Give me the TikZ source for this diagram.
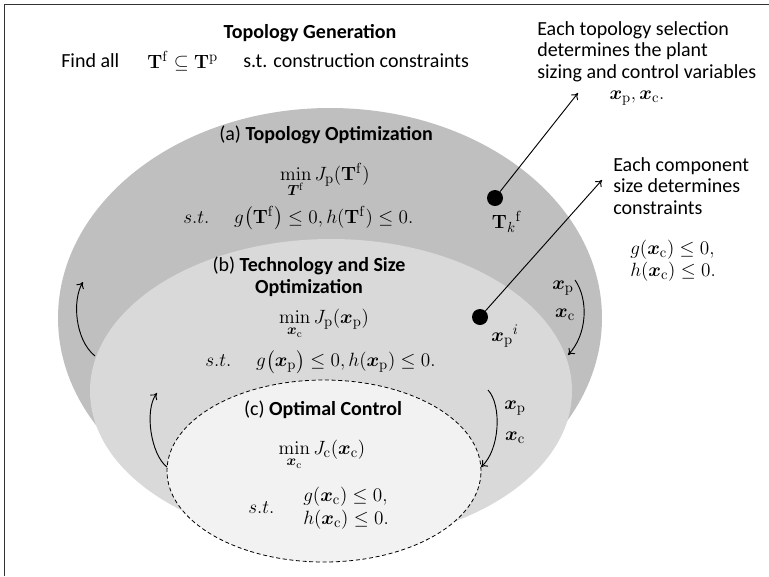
\documentclass[tikz,border=0pt]{standalone}
\usepackage[no-math]{fontspec}
\setmainfont{Carlito}
\usepackage{amsmath,bm}
\usetikzlibrary{arrows.meta,shapes.geometric}
\begin{document}
\begin{tikzpicture}[x=0.75pt,y=-0.75pt,
  txt/.style={font=\fontsize{15}{16.3}\selectfont, inner sep=0pt},
  mth/.style={font=\fontsize{15.6}{17}\selectfont, inner sep=0pt},
  blk/.style={txt, align=left},
  region/.style={ellipse, draw=none, inner sep=0pt},
  dot/.style={circle, fill=black, minimum size=12pt, inner sep=0pt},
  arr/.style={line width=0.7pt, -{To[length=4.5pt,width=6.5pt]}},
  curv/.style={line width=0.7pt, -{To[length=4.5pt,width=6.5pt]}}]
\useasboundingbox (0,0) rectangle (769,576);

% frame
\draw[line width=1.1pt, black!80] (4.5,576) -- (4.5,4.5) -- (769,4.5);

% nested optimisation levels
\node[region, fill=black!25, minimum width=408pt, minimum height=315pt] (ella) at (330,318) {};
\node[region, fill=black!15, minimum width=361.5pt, minimum height=228pt] (ellb) at (331,391) {};
\node[region, fill=black!5, draw=black, dashed, dash pattern=on 3pt off 2pt, line width=0.6pt,
      minimum width=235.5pt, minimum height=136.5pt] (ellc) at (324,471) {};

% heading
\node[txt] (title) at (310,33) {\textbf{Topology Generation}};
\node[txt, anchor=west] (findall) at (61,61) {Find all};
\node[mth, anchor=west] (tset) at (147,61) {$\mathbf{T}^{\mathrm{f}} \subseteq \mathbf{T}^{\mathrm{p}}$};
\node[txt, anchor=west] (constr) at (243,61) {s.t. construction constraints};

% (a) topology optimisation
\node[txt] (ta) at (326,135) {(a) \textbf{Topology Optimization}};
\node[mth] (mina) at (325,180) {$\min\limits_{\bm{T}^{\mathrm{f}}} J_{\mathrm{p}}(\mathbf{T}^{\mathrm{f}})$};
\node[mth, anchor=west] (sta) at (183,218) {$s.t.\hspace{1.2em} g\bigl(\mathbf{T}^{\mathrm{f}}\bigr) \le 0, h(\mathbf{T}^{\mathrm{f}}) \le 0.$};

% (b) technology and size optimisation
\node[txt, align=center] (tb) at (309,277) {(b) \textbf{Technology and Size}\\\textbf{Optimization}};
\node[mth] (minb) at (324,324) {$\min\limits_{\bm{x}_{\mathrm{c}}} J_{\mathrm{p}}(\bm{x}_{\mathrm{p}})$};
\node[mth, anchor=west] (stb) at (205,362) {$s.t.\hspace{1.2em} g\bigl(\bm{x}_{\mathrm{p}}\bigr) \le 0, h(\bm{x}_{\mathrm{p}}) \le 0.$};

% (c) optimal control
\node[txt] (tc) at (323,410) {(c) \textbf{Optimal Control}};
\node[mth] (minc) at (322,455) {$\min\limits_{\bm{x}_{\mathrm{c}}} J_{\mathrm{c}}(\bm{x}_{\mathrm{c}})$};
\node[mth, anchor=west] (stc) at (248,508) {$s.t.$};
\node[mth, anchor=west, align=left] (gc) at (303,508) {$g(\bm{x}_{\mathrm{c}}) \le 0,$\\$h(\bm{x}_{\mathrm{c}}) \le 0.$};

% selected points
\node[dot] (tk) at (495,198) {};
\node[mth] (tklab) at (507,222) {$\mathbf{T}_{k}{}^{\mathrm{f}}$};
\node[dot] (xpi) at (480,317) {};
\node[mth] (xpilab) at (505,336) {$\bm{x}_{\mathrm{p}}{}^{i}$};

% side notes
\node[blk, anchor=north west] (note1) at (537,21) {Each topology selection\\determines the plant\\sizing and control variables};
\node[mth] (note1m) at (637,98) {$\bm{x}_{\mathrm{p}}, \bm{x}_{\mathrm{c}}.$};
\node[blk, anchor=north west] (note2) at (613,157) {Each component\\size determines\\constraints};
\node[txt, anchor=west, align=left] (note2m) at (630,261) {$g(\bm{x}_{\mathrm{c}}) \le 0,$\\$h(\bm{x}_{\mathrm{c}}) \le 0.$};

\coordinate (tip1) at (578,93);
\coordinate (tip2) at (602,180);
\draw[arr] (tk) -- (tip1);
\draw[arr] (xpi) -- (tip2);

% passing variables inward
\node[mth] (xp1) at (563,288) {$\bm{x}_{\mathrm{p}}$};
\node[mth] (xc1) at (565,315) {$\bm{x}_{\mathrm{c}}$};
\node[mth] (xp2) at (515,408) {$\bm{x}_{\mathrm{p}}$};
\node[mth] (xc2) at (515,438) {$\bm{x}_{\mathrm{c}}$};

\coordinate (d1s) at (575,280);
\coordinate (d1e) at (568,355);
\coordinate (d2s) at (488,390);
\coordinate (d2e) at (481,467);
\draw[curv] (d1s) .. controls (589,300) and (587,335) .. (d1e);
\draw[curv] (d2s) .. controls (502,405) and (500,450) .. (d2e);

% passing results outward
\coordinate (u1s) at (95,356);
\coordinate (u1e) at (83,282);
\coordinate (u2s) at (167,467);
\coordinate (u2e) at (157,393);
\draw[curv] (u1s) .. controls (75,340) and (72,300) .. (u1e);
\draw[curv] (u2s) .. controls (151,455) and (144,410) .. (u2e);
\end{tikzpicture}
\end{document}
